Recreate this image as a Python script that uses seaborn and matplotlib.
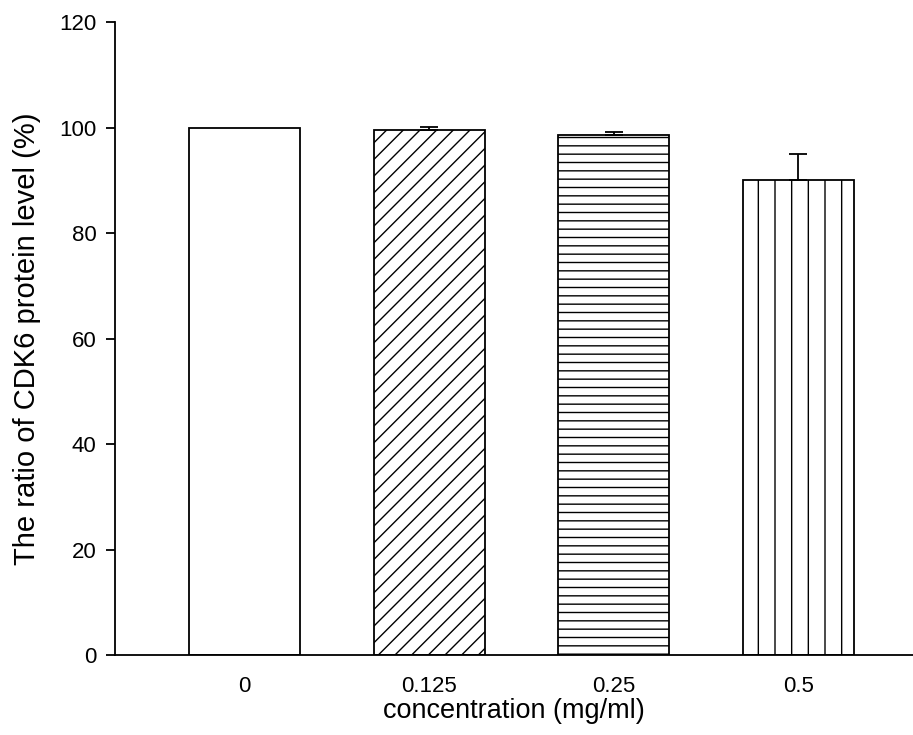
import matplotlib
matplotlib.use("Agg")
import matplotlib.pyplot as plt
import seaborn as sns
import pandas as pd

concentrations = ["0", "0.125", "0.25", "0.5"]
ratios = [100.0, 99.6, 98.6, 90.0]
errors = [0.0, 0.5, 0.5, 5.0]
hatches = ["", "//", "--", "|"]
y_ticks = [0, 20, 40, 60, 80, 100, 120]

sns.set_style("ticks")
plt.rcParams["font.family"] = ["Liberation Sans", "DejaVu Sans"]
plt.rcParams["hatch.linewidth"] = 1.0
plt.rcParams["text.color"] = "black"
plt.rcParams["axes.labelcolor"] = "black"
plt.rcParams["xtick.color"] = "black"
plt.rcParams["ytick.color"] = "black"

df = pd.DataFrame({"conc": concentrations, "ratio": ratios})

fig = plt.figure(figsize=(9.13, 7.35), dpi=100)
ax = fig.add_axes([0.1265, 0.1088, 0.8735, 0.8612])

sns.barplot(data=df, x="conc", y="ratio", color="white", edgecolor="black",
            linewidth=1.3, width=0.6, errorbar=None, ax=ax, saturation=1)

for patch, h in zip(ax.patches, hatches):
    patch.set_hatch(h)
    patch.set_facecolor("white")
    patch.set_edgecolor("black")

idx = [i for i, e in enumerate(errors) if e > 0]
ax.errorbar([i for i in idx], [ratios[i] for i in idx],
            yerr=[[0] * len(idx), [errors[i] for i in idx]], fmt="none",
            ecolor="black", elinewidth=1.3, capsize=6.2, capthick=1.3)

ax.set_ylim(0, 120)
ax.set_xlim(-0.698, 3.62)
ax.set_yticks(y_ticks)
ax.set_yticklabels([str(t) for t in y_ticks])
ax.tick_params(axis="y", direction="out", length=6.5, width=1.3, labelsize=16, pad=7)
ax.tick_params(axis="x", length=0, labelsize=16, pad=15)
ax.set_xlabel("concentration (mg/ml)", fontsize=19.5, labelpad=1)
ax.set_ylabel("The ratio of CDK6 protein level (%)", fontsize=21, labelpad=13)

for s in ["top", "right"]:
    ax.spines[s].set_visible(False)
for s in ["left", "bottom"]:
    ax.spines[s].set_linewidth(1.3)
    ax.spines[s].set_color("black")

fig.savefig("out.png", dpi=100)
